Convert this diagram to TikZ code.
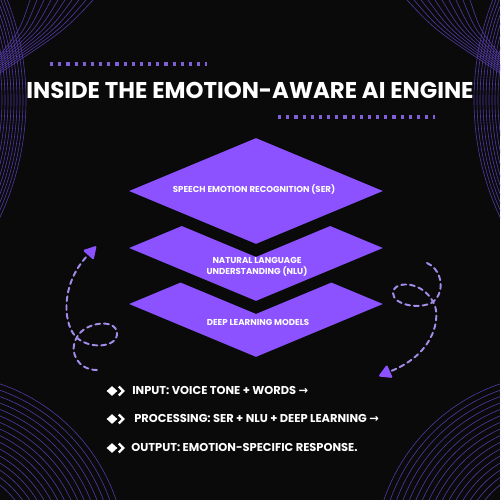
\documentclass[tikz,border=0pt]{standalone}
\usepackage{fontspec}
\setmainfont{Poppins}
\newfontfamily\arrowfont{DejaVu Sans}
\usetikzlibrary{calc}
\usetikzlibrary{positioning}
\usetikzlibrary{shapes.geometric}

\definecolor{bgblack}{HTML}{0A0A0A}
\definecolor{layerpurple}{HTML}{8C52FF}
\definecolor{dotpurple}{HTML}{7F60D8}
\definecolor{dashpurple}{HTML}{A48CEA}
\definecolor{linepurple}{HTML}{5039A0}

\tikzset{
  layer/.style={diamond, fill=layerpurple, minimum width=5.08cm, minimum height=2.12cm, inner sep=0pt},
  layershadow/.style={diamond, fill=bgblack, minimum width=5.08cm, minimum height=2.12cm, inner sep=0pt},
  layertext/.style={text=white, font=\bfseries\fontsize{4.9}{6.2}\selectfont, align=center, inner sep=0pt},
  bullettext/.style={text=white, font=\bfseries\fontsize{6.5}{8}\selectfont, anchor=west, inner sep=0pt},
  bulleticon/.style={diamond, fill=white, minimum width=0.22cm, minimum height=0.2cm, inner sep=0pt},
  headtri/.style={regular polygon, regular polygon sides=3, fill=layerpurple, minimum size=0.34cm, inner sep=0pt, rounded corners=0.8pt},
  loopline/.style={dashpurple, line width=1.1pt, dash pattern=on 2.8pt off 2.2pt, line cap=round},
  dotline/.style={dotpurple, line width=1.8pt, dash pattern=on 1.8pt off 2.85pt},
  cornerline/.style={linepurple, line width=0.35pt}
}

\begin{document}
\begin{tikzpicture}[x=0.02cm, y=-0.02cm]
  \fill[bgblack] (0, 0) rectangle (500, 500);
  \useasboundingbox (0, 0) rectangle (500, 500);

  % corner lines
  \begin{scope}
    \clip (0, 0) rectangle (500, 500);
    \foreach \i in {0,...,9}{
      \draw[cornerline] (30+7*\i, 0) .. controls (20+5*\i, 30) .. (0, 55+2*\i);
      \draw[cornerline] (470-7*\i, 0) .. controls (480-5*\i, 30) .. (500, 55+2*\i);
    }
    \foreach \r in {252,255,...,276}{
      \draw[cornerline] (-250, 100) circle (\r);
      \draw[cornerline] (750, 100) circle (\r);
    }
    \foreach \r in {96,102,...,186}{
      \draw[cornerline] (560, 560) circle (\r);
      \draw[cornerline] (-60, 560) circle (\r);
    }
  \end{scope}

  % title
  \coordinate (dotA) at (50, 64);
  \coordinate (dotB) at (207, 64);
  \coordinate (dotC) at (278, 117);
  \coordinate (dotD) at (435, 117);
  \draw[dotline] (dotA) -- (dotB);
  \draw[dotline] (dotC) -- (dotD);
  \node[text=white, font=\bfseries\fontsize{13}{15}\selectfont, inner sep=0pt] (title) at (250, 90)
    {INSIDE THE EMOTION-AWARE AI ENGINE};

  % stacked layers
  \foreach \name / \ycord in {dl/304, nlu/248, ser/191}{
    \node[layershadow] (\name shadow) at (256, \ycord+13) {};
    \node[layer] (\name) at (256, \ycord) {};
  }
  \node[layertext] (sertext) at ($(ser)+(-2, -2)$) {SPEECH EMOTION RECOGNITION (SER)};
  \node[layertext] (nlutext) at ($(nlu)+(1, 19)$) {NATURAL LANGUAGE\\UNDERSTANDING (NLU)};
  \node[layertext] (dltext) at ($(dl)+(2, 18)$) {DEEP LEARNING MODELS};

  % dashed loops with heads
  \node[headtri, rotate=-42] (headL) at (91, 252) {};
  \node[headtri, rotate=114] (headR) at (386, 373) {};
  \coordinate (tailL) at (97, 370);
  \coordinate (tailR) at (427, 263);
  \draw[loopline] (tailL) .. controls (78, 370) and (68, 352) .. (77, 337)
    .. controls (85, 322) and (116, 318) .. (117, 333)
    .. controls (118, 348) and (88, 350) .. (75, 336)
    .. controls (62, 320) and (62, 282) .. (headL);
  \draw[loopline] (tailR) .. controls (440, 268) and (447, 290) .. (433, 302)
    .. controls (420, 310) and (393, 305) .. (393, 293)
    .. controls (393, 280) and (425, 280) .. (435, 306)
    .. controls (440, 322) and (432, 355) .. (headR);

  % bullet list
  \foreach \name / \ycord / \xcord / \txt in {
    input / 390 / 132 / {INPUT: VOICE TONE + WORDS {\arrowfont→}},
    proc / 418 / 134 / {PROCESSING: SER + NLU + DEEP LEARNING {\arrowfont→}},
    output / 447 / 131 / {OUTPUT: EMOTION-SPECIFIC RESPONSE.}
  }{
    \node[bulleticon] (\name icon) at (112, \ycord+1) {};
    \draw[white, line width=1.3pt] ($(\name icon.east)+(1, -4.5)$) -- ++(4.5, 4.5) -- ++(-4.5, 4.5);
    \node[bullettext] (\name) at (\xcord, \ycord) {\txt};
  }
\end{tikzpicture}
\end{document}
